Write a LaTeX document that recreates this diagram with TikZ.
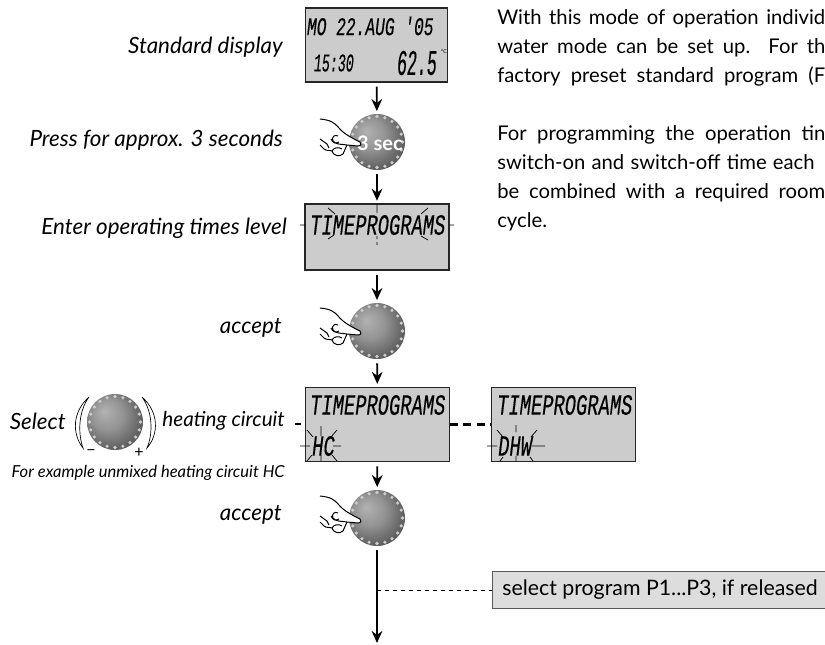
\documentclass[tikz,border=0pt]{standalone}
\usepackage{fontspec}
\usetikzlibrary{arrows.meta}
\setmainfont{Lato}
\newfontfamily\lcdfont[FakeStretch=0.64,FakeSlant=0.12,FakeBold=0.3]{Liberation Mono}
\definecolor{lcdgray}{HTML}{CCCCCC}
\definecolor{notegray}{HTML}{DDDDDD}
\pgfdeclareradialshading{knobshade}{\pgfpoint{-0.35cm}{0.35cm}}{%
  color(0bp)=(black!30); color(14bp)=(black!42); color(28bp)=(black!62); color(50bp)=(black!78)}
\newcommand{\bodyline}[2][246pt]{\makebox[#1][s]{#2}}
\tikzset{
  lcd/.style={draw=black!85,line width=0.9pt,fill=lcdgray,rectangle,inner sep=0pt,
    minimum width=108pt},
  lcdrow/.style={inner sep=0pt,anchor=west,font=\lcdfont\fontsize{22}{22}\selectfont},
  knob/.style={circle,inner sep=0pt,minimum size=42pt,shading=knobshade},
  flow/.style={-{Stealth[length=9pt,width=8pt]},line width=1.4pt,shorten <=3pt,shorten >=2pt},
  say/.style={inner sep=0pt,anchor=east,font=\fontsize{16.8}{20}\selectfont\itshape},
  body/.style={inner sep=0pt,anchor=north west,align=left,
    font=\fontsize{15.2}{21.7}\selectfont},
  ray/.style={line width=0.55pt},
  hand/.pic={
    \draw[fill=white,line width=0.75pt,line join=round]
      (-40,-24) .. controls (-30,-23) and (-26,-21) .. (-21,-15)
      .. controls (-16,-9) and (-8,-5) .. (0,-1)
      .. controls (2,0) and (1,3) .. (-2,3) -- (-13,2)
      .. controls (-15,5) and (-15,8) .. (-17,11)
      .. controls (-20,14) and (-27,13) .. (-28,8)
      .. controls (-30,7) and (-34,8) .. (-36,6) -- (-40,2);
    \draw[line width=0.75pt]
      (-13,2) .. controls (-18,1) and (-24,2) .. (-27,-2)
      .. controls (-29,-6) and (-25,-9) .. (-22,-7)
      (-29,-4) .. controls (-27,0) and (-25,1) .. (-21,-1)
      (-28,8) .. controls (-26,4) and (-21,4) .. (-18,6)
      (-40,-4) -- (-33,1) -- (-31,5);
  }
}
% dots round the rim of a knob
\newcommand{\knobdots}[1]{
  \foreach \a in {0,18,...,342}
    \fill[black!20] (#1.center) ++(\a:25.5) circle (1.8);
}
\begin{document}
\begin{tikzpicture}[x=0.75pt,y=-0.75pt]
  \useasboundingbox (0,0) rectangle (825,644);

  % texts on the right
  \node[body] (introA) at (497,9) {\bodyline{With this mode of operation individ}\\
    \bodyline{water mode can be set up. For th}\\
    \bodyline{factory preset standard program (F}};
  \node[body] (introB) at (497,125) {\bodyline{For programming the operation tin}\\
    \bodyline[238pt]{switch-on and switch-off time each}\\
    \bodyline{be combined with a required room}\\
    cycle.};

  % displays
  \node[lcd,minimum width=107pt,minimum height=55.5pt] (lcdA) at (376.5,45) {};
  \node[lcd,minimum height=49.5pt] (lcdB) at (377,237) {};
  \node[lcd,minimum height=56pt] (lcdC) at (377.5,424.5) {};
  \node[lcd,minimum height=56pt] (lcdD) at (563.5,424.5) {};

  \node[lcdrow] (dateA) at (306,26) {\fontsize{19}{19}\selectfont MO 22.AUG '05};
  \node[lcdrow] (timeA) at (313,63) {\scalebox{0.82}[1]{\fontsize{19}{19}\selectfont 15:30}};
  \node[lcdrow] (tempA) at (396,63) {\scalebox{0.72}[1]{\fontsize{27}{27}\selectfont 62.5}};
  \node[inner sep=0pt,font=\fontsize{4}{4}\selectfont] (unitA) at (444,52) {°C};
  \node[lcdrow] (progB) at (309,225) {TIMEPROGRAMS};
  \node[lcdrow] (progC) at (309,405) {TIMEPROGRAMS};
  \node[lcdrow] (progD) at (496,405) {TIMEPROGRAMS};
  \node[lcdrow] (circC) at (311,446) {HC};
  \node[lcdrow] (circD) at (497,446) {DHW};

  % blinking marks
  \draw[ray] (300,225) -- (305,225) (449,225) -- (454,225)
    (377,204) -- (377,213) (377,236) -- (377,239) (377,242) -- (377,245)
    (328,208) -- (335,214) (328,239) -- (334,235)
    (421,214) -- (428,208) (421,236) -- (428,240);
  \draw[ray] (300,446) -- (310,446) (333,446) -- (341,446) (321,426) -- (321,436)
    (321,455) -- (321,461) (307,430) -- (313,437) (337,430) -- (331,437)
    (307,461) -- (312,455) (337,461) -- (332,455);
  \draw[ray] (487,446) -- (497,446) (532,446) -- (545,446) (516,425) -- (516,432)
    (516,456) -- (516,461) (497,430) -- (503,437) (537,430) -- (531,437)
    (500,461) -- (503,457) (533,461) -- (530,457);

  % knobs
  \node[knob] (knobA) at (377,142) {};
  \node[knob] (knobB) at (377,331) {};
  \node[knob] (knobC) at (377,518) {};
  \node[knob] (knobS) at (115,422) {};
  \knobdots{knobA}
  \knobdots{knobB}
  \knobdots{knobC}
  \knobdots{knobS}
  \node[inner sep=0pt,text=white,font=\bfseries\fontsize{15}{15}\selectfont] (secA) at (380,143) {3 sec};
  \pic at (360,143) {hand};
  \pic at (360,332) {hand};
  \pic at (360,520) {hand};

  % brackets round the select knob
  \draw[fill=white,line width=0.5pt] (89,397) .. controls (72,412) and (72,434) .. (83,448)
    .. controls (78,434) and (78,412) .. (89,397);
  \draw[fill=white,line width=0.5pt] (142,397) .. controls (159,412) and (159,434) .. (147,448)
    .. controls (153,434) and (153,412) .. (142,397);
  \node[inner sep=0pt] (minusS) at (91,453) {\fontsize{12}{12}\selectfont −};
  \node[inner sep=0pt] (plusS) at (139,453) {\fontsize{12}{12}\selectfont +};

  % labels
  \node[say] (sayA) at (283,47) {Standard display};
  \node[say] (sayB) at (283,140) {Press for approx. 3 seconds};
  \node[say] (sayC) at (287,228) {Enter operating times level};
  \node[say] (sayD) at (282,328) {accept};
  \node[say] (sayE) at (66,421) {Select};
  \node[say,font=\fontsize{15.5}{18}\selectfont\itshape] (sayF) at (285,421) {heating circuit};
  \node[say,font=\fontsize{12.4}{15}\selectfont\itshape] (sayG) at (285,473) {For example unmixed heating circuit HC};
  \node[say] (sayH) at (282,515) {accept};

  % note box
  \node[draw=black!65,line width=0.8pt,fill=notegray,minimum height=27.5pt,minimum width=252pt,
    anchor=west,inner sep=0pt] (noteA) at (492,590) {};
  \node[inner sep=0pt,anchor=west,font=\fontsize{16}{19}\selectfont] (noteText) at (502,590)
    {select program P1...P3, if released};

  % connectors
  \draw[flow] (lcdA) -- (knobA);
  \draw[flow] (knobA) -- (lcdB);
  \draw[flow] (lcdB) -- (knobB);
  \draw[flow] (knobB) -- (lcdC);
  \draw[flow] (lcdC) -- (knobC);
  \coordinate (endC) at (377,643);
  \coordinate (tapC) at (377,590);
  \coordinate (stubC) at (295,424);
  \draw[flow,shorten >=0pt] (knobC) -- (endC);
  \draw[dashed,line width=0.5pt] (tapC) -- (noteA.west);
  \draw[line width=1.6pt,dash pattern=on 6pt off 4pt] (lcdC) -- (lcdD);
  \draw[line width=1.6pt] (stubC) -- +(6,0);
\end{tikzpicture}
\end{document}
